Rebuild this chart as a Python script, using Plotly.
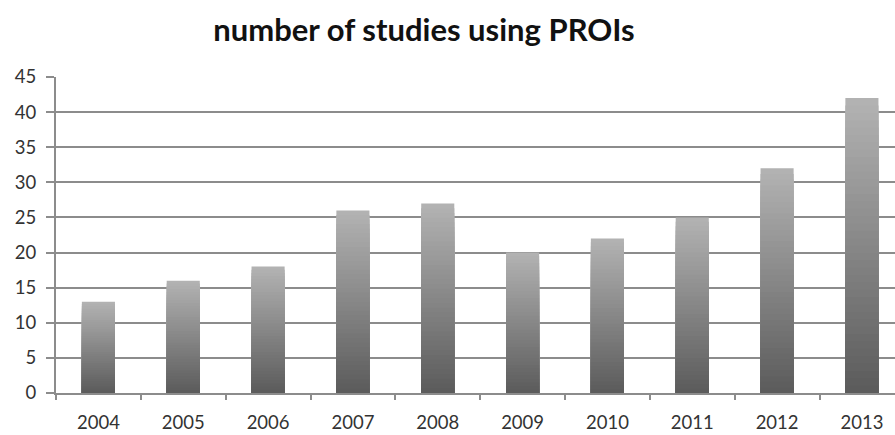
import plotly.graph_objects as go

# Number of studies per year
years = ["2004", "2005", "2006", "2007", "2008", "2009", "2010", "2011", "2012", "2013"]
studies = [13, 16, 18, 26, 27, 20, 22, 25, 32, 42]
y_ticks = [0, 5, 10, 15, 20, 25, 30, 35, 40, 45]

# Vertical grey gradient per bar: overlay progressively shorter, darker bars
top_rgb = (178, 178, 178)
bottom_rgb = (92, 92, 92)
steps = 40

fig = go.Figure()
for i in range(steps):
    frac = 1 - i / steps
    t = i / (steps - 1)
    r, g, b = (round(top_rgb[k] + (bottom_rgb[k] - top_rgb[k]) * t) for k in range(3))
    fig.add_trace(go.Bar(
        x=years,
        y=[v * frac for v in studies],
        marker=dict(color=f"rgb({r},{g},{b})", line=dict(width=0)),
        width=0.39,
        hoverinfo="skip" if i else "y",
        showlegend=False,
    ))

grid_color = "#8c8c8c"
fig.update_layout(
    barmode="overlay",
    width=895,
    height=435,
    margin=dict(l=56, r=0, t=77, b=42),
    paper_bgcolor="white",
    plot_bgcolor="white",
    font=dict(family="Lato", color="#333333"),
    title=dict(
        text="<b>number of studies using PROIs</b>",
        font=dict(family="Lato", size=31, color="#111111"),
        x=(424 - 56) / 839,
        xref="paper",
        xanchor="center",
        y=0.93,
        yref="container",
        yanchor="middle",
    ),
    xaxis=dict(
        type="category",
        range=[-0.5, 9.39],
        showgrid=False,
        showline=True,
        linecolor=grid_color,
        linewidth=2,
        ticks="outside",
        tickson="boundaries",
        ticklen=5,
        tickwidth=2,
        tickcolor=grid_color,
        tickfont=dict(size=18.5, color="#333333"),
        ticklabelstandoff=12,
    ),
    yaxis=dict(
        range=[0, 45],
        tickvals=y_ticks,
        showgrid=True,
        gridcolor=grid_color,
        gridwidth=2,
        showline=True,
        linecolor=grid_color,
        linewidth=2,
        zeroline=False,
        ticks="outside",
        ticklen=8,
        tickwidth=2,
        tickcolor=grid_color,
        tickfont=dict(size=18.5, color="#333333"),
        ticklabelstandoff=6,
    ),
)

fig.write_html("out.html")
